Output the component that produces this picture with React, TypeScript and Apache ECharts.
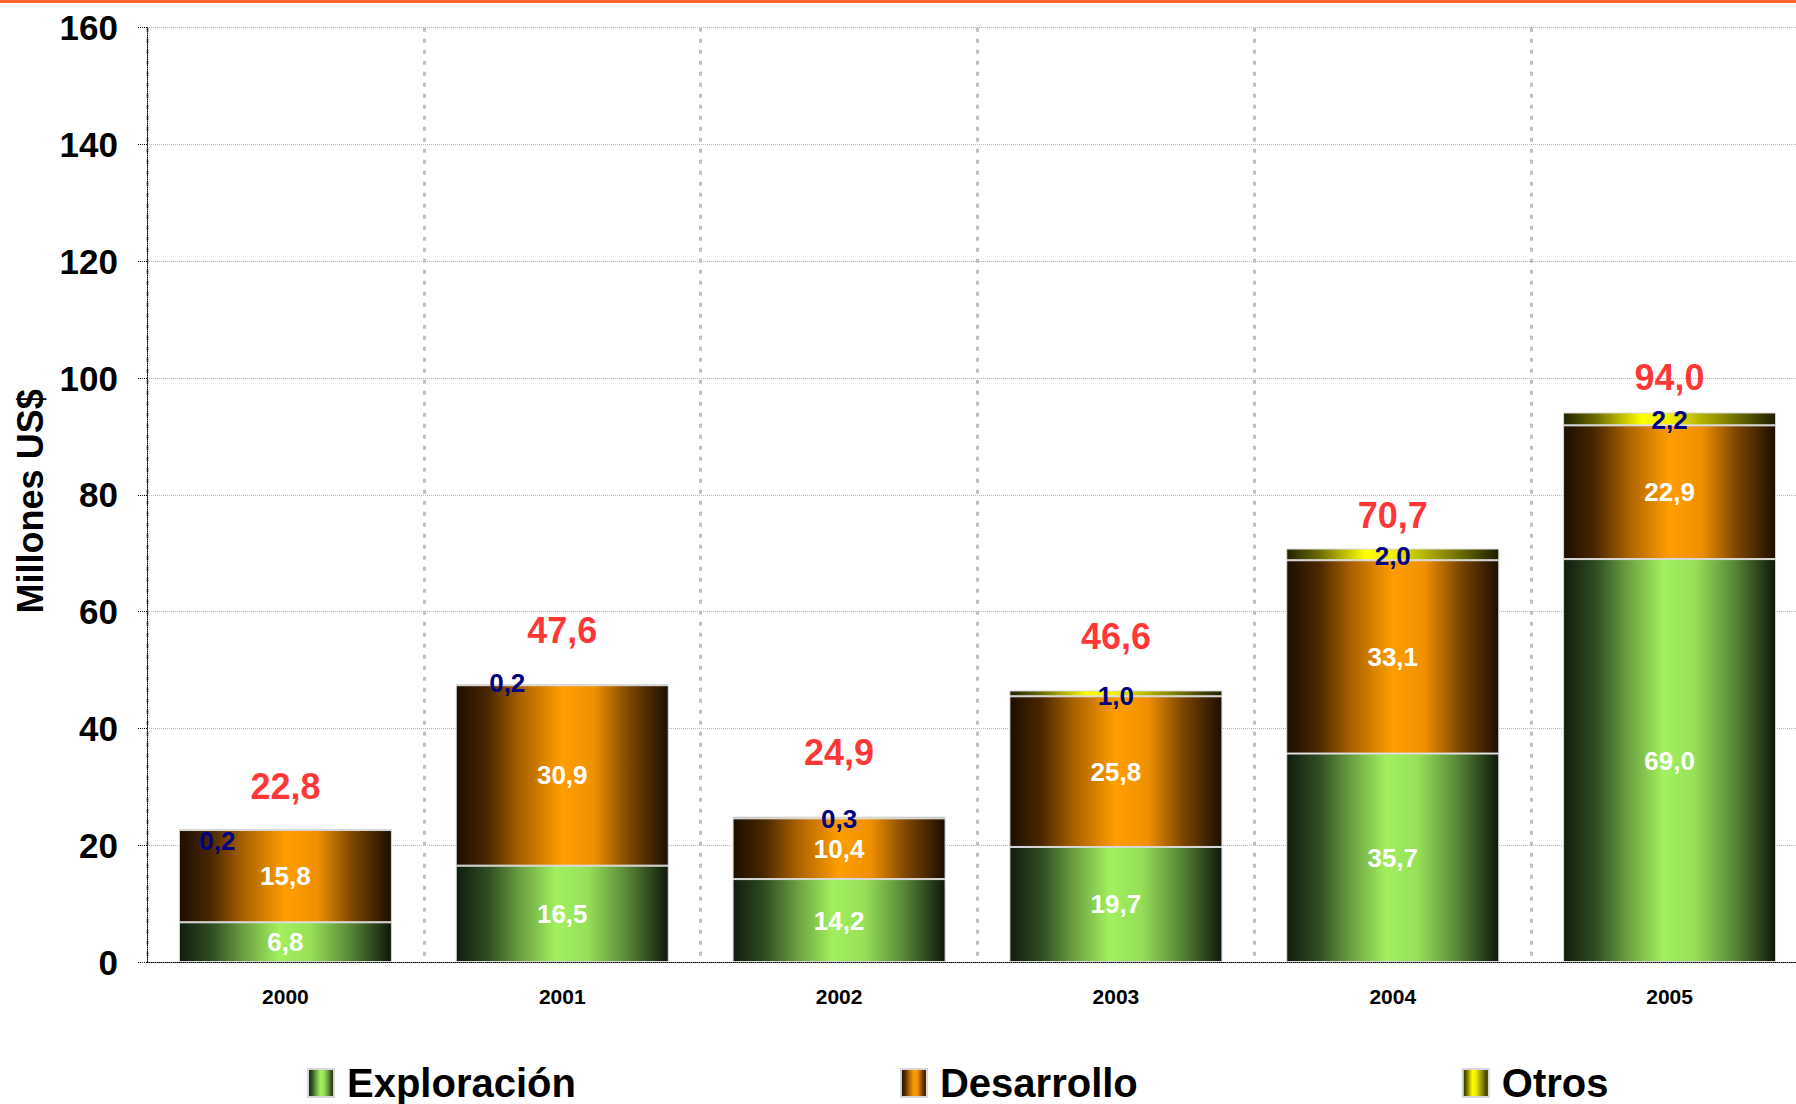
import React, { useEffect, useRef } from "react";
import * as echarts from "echarts";

const years = ["2000", "2001", "2002", "2003", "2004", "2005"];
const exploracion = [6.8, 16.5, 14.2, 19.7, 35.7, 69.0];
const desarrollo = [15.8, 30.9, 10.4, 25.8, 33.1, 22.9];
const otros = [0.2, 0.2, 0.3, 1.0, 2.0, 2.2];
const totales = [22.8, 47.6, 24.9, 46.6, 70.7, 94.0];

const FONT = "'Liberation Sans', Arial, sans-serif";

const otrosLabelOffsets = [[-68, 12], [-55, -2], [0, 2], [0, 3], [0, 2], [0, 1]];
const totalLabelLift = [42, 54, 64, 53, 34, 36];

const fmt = (v: number) => v.toFixed(1).replace(".", ",");

const grad = (stops: [number, string][]) =>
  new echarts.graphic.LinearGradient(0, 0, 1, 0, stops.map(([offset, color]) => ({ offset, color })));

const greenGrad = grad([
  [0, "#101c0c"],
  [0.15, "#2f4c23"],
  [0.3, "#6a9e40"],
  [0.47, "#a2f05e"],
  [0.62, "#96e058"],
  [0.8, "#5a8a38"],
  [1, "#0e180a"],
]);
const orangeGrad = grad([
  [0, "#1c0e00"],
  [0.15, "#4a2800"],
  [0.3, "#a86000"],
  [0.5, "#ff9e00"],
  [0.65, "#f09000"],
  [0.82, "#7a4400"],
  [1, "#1c0e00"],
]);
const yellowGrad = grad([
  [0, "#222200"],
  [0.15, "#6a6a00"],
  [0.37, "#ffff00"],
  [0.5, "#f0f000"],
  [0.75, "#8a8a00"],
  [1, "#1c1c00"],
]);

export default function App() {
  const ref = useRef<HTMLDivElement>(null);
  useEffect(() => {
    if (!ref.current) return;
    const chart = echarts.init(ref.current, null, { renderer: "svg" });
    const segBorder = { borderColor: "#d8d8d8", borderWidth: 1 };
    chart.setOption({
      animation: false,
      backgroundColor: "#ffffff",
      textStyle: { fontFamily: FONT },
      graphic: [
        { type: "rect", left: 0, top: 0, shape: { width: 1796, height: 3 }, style: { fill: "#ff6633" } },
      ],
      grid: { left: 147, top: 27.7, width: 1661, height: 934.3, containLabel: false, outerBoundsMode: "none" },
      legend: {
        data: ["Exploración", "Desarrollo", "Otros"],
        left: 307,
        top: 1063,
        padding: 0,
        icon: "rect",
        itemWidth: 26,
        itemHeight: 28,
        itemGap: 324,
        textStyle: { fontSize: 40, fontWeight: "bold", color: "#000", fontFamily: FONT, padding: [0, 0, 0, 8] },
      },
      xAxis: {
        type: "category",
        data: years,
        axisLine: { lineStyle: { color: "#000", type: "dotted", width: 1 } },
        axisTick: { show: false },
        axisLabel: { fontSize: 21, fontWeight: "bold", color: "#000", margin: 24, fontFamily: FONT },
        splitLine: { show: true, lineStyle: { color: "#c0c0c0", type: [4, 7], width: 3 } },
      },
      yAxis: {
        type: "value",
        min: 0,
        max: 160,
        interval: 20,
        name: "Millones US$",
        nameLocation: "middle",
        nameGap: 97,
        nameTextStyle: { fontSize: 36, fontWeight: "bold", color: "#000", fontFamily: FONT, padding: [0, 13, 0, 0] },
        axisLine: { show: true, lineStyle: { color: "#000", type: "dotted", width: 1 } },
        axisTick: { show: true, length: 10, lineStyle: { color: "#000", type: "dotted" } },
        axisLabel: { fontSize: 35, fontWeight: "bold", color: "#000", margin: 29, fontFamily: FONT },
        splitLine: { show: true, lineStyle: { color: "#b8b8b8", type: "dotted", width: 1 } },
      },
      series: [
        {
          name: "Exploración",
          type: "bar",
          stack: "t",
          barWidth: 213,
          data: exploracion,
          itemStyle: { color: greenGrad, ...segBorder },
          label: { show: true, position: "inside", formatter: (p: any) => fmt(p.value), color: "#fff", fontSize: 26, fontWeight: "bold", fontFamily: FONT },
        },
        {
          name: "Desarrollo",
          type: "bar",
          stack: "t",
          barWidth: 213,
          data: desarrollo,
          itemStyle: { color: orangeGrad, ...segBorder },
          label: { show: true, position: "inside", formatter: (p: any) => fmt(p.value), color: "#fff", fontSize: 26, fontWeight: "bold", fontFamily: FONT },
        },
        {
          name: "Otros",
          type: "bar",
          stack: "t",
          barWidth: 213,
          data: otros.map((v, i) => ({ value: v, label: { offset: otrosLabelOffsets[i] } })),
          itemStyle: { color: yellowGrad, ...segBorder },
          label: { show: true, position: "inside", formatter: (p: any) => fmt(p.value), color: "#000080", fontSize: 26, fontWeight: "bold", fontFamily: FONT },
        },
        {
          name: "Total",
          type: "scatter",
          symbolSize: 1,
          itemStyle: { color: "rgba(0,0,0,0)" },
          data: totales.map((v, i) => ({ value: [years[i], v], label: { offset: [0, -totalLabelLift[i]] } })),
          label: { show: true, position: "inside", formatter: (p: any) => fmt(p.value[1]), color: "#ff0000", fontSize: 36, fontWeight: "bold", fontFamily: FONT },
          z: 10,
        },
      ],
    });
    return () => chart.dispose();
  }, []);
  return <div ref={ref} style={{ position: "fixed", left: 0, top: 0, width: 1796, height: 1104 }} />;
}
